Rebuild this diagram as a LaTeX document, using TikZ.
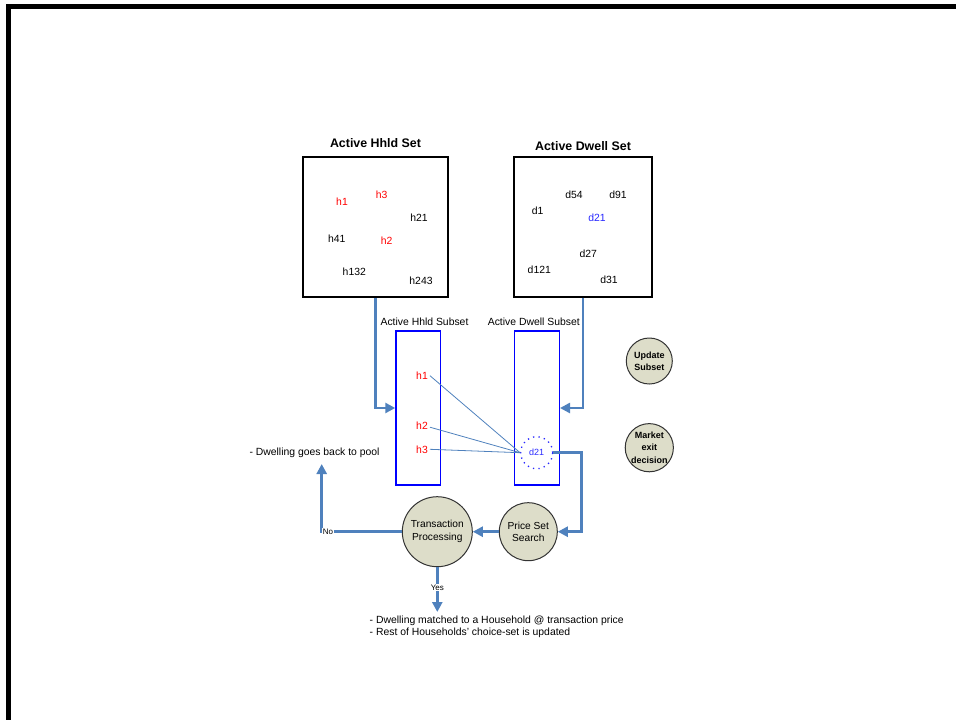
\documentclass[tikz,border=0pt]{standalone}
\usepackage{fontspec}
\setmainfont{Liberation Sans}
\usetikzlibrary{arrows.meta,positioning}
\definecolor{connblue}{RGB}{79,129,189}
\definecolor{stepfill}{RGB}{221,221,201}
\definecolor{ptred}{RGB}{255,0,0}
\definecolor{ptblue}{RGB}{40,40,255}
\tikzset{
  lbl/.style={font=\fontsize{10.4}{12}\selectfont, inner sep=0pt},
  title/.style={font=\bfseries\fontsize{12.4}{14}\selectfont, inner sep=0pt},
  setbox/.style={draw=black, line width=2pt, fill=white, inner sep=0pt},
  subbox/.style={draw=blue, line width=1.4pt, inner sep=0pt, minimum width=45pt, minimum height=154pt},
  conn/.style={draw=connblue, line width=2.5pt, -{Triangle[length=10pt,width=10pt]}},
  link/.style={draw=connblue, line width=0.8pt},
  process/.style={circle, draw=black!80, line width=1pt, fill=stepfill, inner sep=0pt, align=center,
                  font=\fontsize{10.2}{12.7}\selectfont},
  decision/.style={circle, draw=black!80, line width=1pt, fill=stepfill, inner sep=0pt, align=center,
                  font=\bfseries\fontsize{9}{12.4}\selectfont},
  tag/.style={font=\fontsize{8}{9}\selectfont, fill=white, inner sep=0.6pt},
}
\begin{document}
\begin{tikzpicture}[x=1pt, y=-1pt]
\useasboundingbox (0,0) rectangle (956,720);
% page frame (top and left edges)
\draw[line width=5pt] (8.5,720) -- (8.5,6.5) -- (956,6.5);

% the two active sets
\node[title] (htitle) at (375.5,143.3) {Active Hhld Set};
\node[title] (dtitle) at (583,145.7) {Active Dwell Set};
\node[setbox, minimum width=145.3pt, minimum height=139.7pt] (hset) at (375.3,226.9) {};
\node[setbox, minimum width=137.4pt, minimum height=140pt] (dset) at (583,226.7) {};

% households in the set
\node[lbl, text=ptred] (sh1) at (342,202) {h1};
\node[lbl, text=ptred] (sh3) at (381.7,194.3) {h3};
\node[lbl] (sh21) at (419,217.3) {h21};
\node[lbl] (sh41) at (336.7,238.7) {h41};
\node[lbl, text=ptred] (sh2) at (386.7,241) {h2};
\node[lbl] (sh132) at (354.3,271.3) {h132};
\node[lbl] (sh243) at (421,280.7) {h243};

% dwellings in the set
\node[lbl] (sd54) at (574,194.3) {d54};
\node[lbl] (sd91) at (618,194.3) {d91};
\node[lbl] (sd1) at (537.7,211) {d1};
\node[lbl, text=ptblue] (sd21) at (597,217.7) {d21};
\node[lbl] (sd27) at (588.3,253.3) {d27};
\node[lbl] (sd121) at (539.3,270) {d121};
\node[lbl] (sd31) at (609,279.3) {d31};

% subsets
\node[lbl] (hsubtitle) at (424.5,321.7) {Active Hhld Subset};
\node[lbl] (dsubtitle) at (533.8,321.7) {Active Dwell Subset};
\node[subbox, minimum width=44.7pt] (hsub) at (418.3,408) {};
\node[subbox] (dsub) at (536.8,408) {};

\node[lbl, text=ptred] (h1) at (422,375.7) {h1};
\node[lbl, text=ptred] (h2) at (422,425.7) {h2};
\node[lbl, text=ptred] (h3) at (422,449.3) {h3};
\node[circle, draw=ptblue, line width=1.3pt, dash pattern=on 1.3pt off 4.2pt,
      minimum size=32pt, inner sep=0pt, text=ptblue,
      font=\fontsize{9}{10}\selectfont] (d21) at (536.7,452.7) {d21};

% candidate matches
\draw[link] ([xshift=2pt]h1.east) -- (d21.west);
\draw[link] ([xshift=2pt,yshift=-1.5pt]h2.east) -- (d21.west);
\draw[link] ([xshift=2pt]h3.east) -- (d21.west);

% feeding the subsets
\draw[conn] (hset.south) |- (hsub.west);
\draw[conn] (dset.south) |- (dsub.east);

% side steps
\node[decision, minimum size=46pt] (update) at (649.3,361) {Update\\Subset};
\node[decision, minimum size=48pt] (exit) at (649.3,447.7) {Market\\exit\\decision};

% transaction loop
\node[process, minimum size=58pt] (price) at (528.3,531.7) {Price Set\\Search};
\node[process, minimum size=70pt] (trans) at (437.3,531.7) {Transaction\\Processing};
\draw[conn] (d21.east) -- ++(28,0) |- (price.east);
\draw[conn] (price.west) -- (trans.east);

\coordinate (poolend) at (321.7,464);
\coordinate (matchend) at (437.3,612);
\draw[conn] (trans.west) -| node[pos=0.5, anchor=west, tag, xshift=-0.6pt] {No} (poolend);
\draw[conn] (trans.south) -- node[pos=0.45, tag] {Yes} (matchend);

\node[lbl, anchor=west] (pool) at (249.3,452.7) {- Dwelling goes back to pool};
\node[lbl, anchor=west] (match1) at (369.5,621) {- Dwelling matched to a Household @ transaction price};
\node[lbl, anchor=west] (match2) at (369.5,632.7) {- Rest of Households’ choice-set is updated};
\end{tikzpicture}
\end{document}
